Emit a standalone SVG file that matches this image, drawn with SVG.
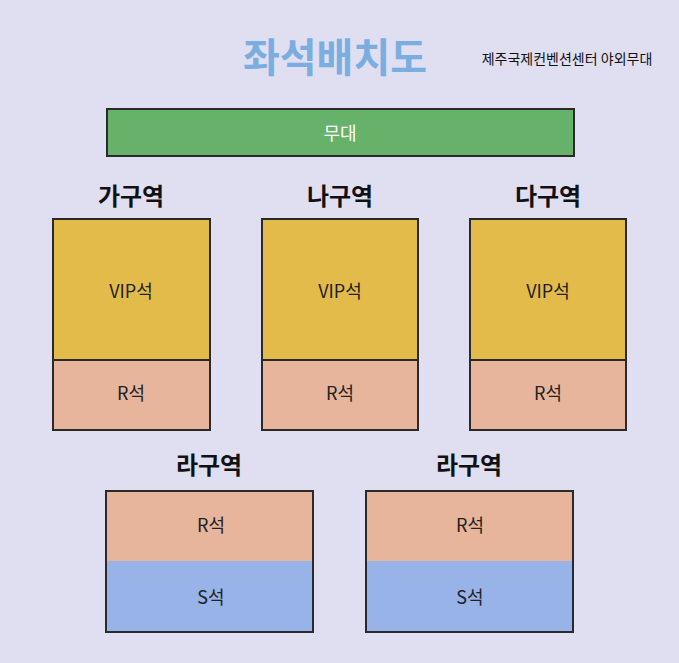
<svg xmlns="http://www.w3.org/2000/svg" width="679" height="663" viewBox="0 0 679 663">
<style>
text{font-family:"Noto Sans CJK KR","Noto Sans",sans-serif;text-anchor:middle}
.b{stroke:#2a2a2a;stroke-width:2}
.vip{fill:#e3bb4b}.r{fill:#e6b59b}.s{fill:#97b3e8}
.lbl{font-size:18px;fill:#222}
.h{font-size:24px;font-weight:bold;fill:#111}
</style>
<rect width="679" height="663" fill="#e0def1"/>
<text x="335" y="72" style="font-size:40px;font-weight:bold;fill:#7aaee0">좌석배치도</text>
<text x="567" y="64" style="font-size:14px;fill:#111">제주국제컨벤션센터 야외무대</text>
<g id="stage"><rect class="b" x="107" y="109" width="467" height="47" fill="#66b26a"/><text x="340" y="140" style="font-size:18px;fill:#fff">무대</text></g>
<g id="ga"><text class="h" x="131" y="205">가구역</text><rect class="vip" x="53" y="219" width="157" height="141"/><rect class="r" x="53" y="360" width="157" height="70"/><rect class="b" x="53" y="219" width="157" height="211" fill="none"/><line class="b" x1="53" y1="360" x2="210" y2="360"/><text class="lbl" x="131" y="298">VIP석</text><text class="lbl" x="131" y="400">R석</text></g>
<g id="na"><text class="h" x="340" y="205">나구역</text><rect class="vip" x="262" y="219" width="156" height="141"/><rect class="r" x="262" y="360" width="156" height="70"/><rect class="b" x="262" y="219" width="156" height="211" fill="none"/><line class="b" x1="262" y1="360" x2="418" y2="360"/><text class="lbl" x="340" y="298">VIP석</text><text class="lbl" x="340" y="400">R석</text></g>
<g id="da"><text class="h" x="548" y="205">다구역</text><rect class="vip" x="470" y="219" width="156" height="141"/><rect class="r" x="470" y="360" width="156" height="70"/><rect class="b" x="470" y="219" width="156" height="211" fill="none"/><line class="b" x1="470" y1="360" x2="626" y2="360"/><text class="lbl" x="548" y="298">VIP석</text><text class="lbl" x="548" y="400">R석</text></g>
<g id="ra1"><text class="h" x="209" y="474">라구역</text><rect class="r" x="106" y="491" width="207" height="70"/><rect class="s" x="106" y="561" width="207" height="71"/><rect class="b" x="106" y="491" width="207" height="141" fill="none"/><text class="lbl" x="211" y="532">R석</text><text class="lbl" x="211" y="604">S석</text></g>
<g id="ra2"><text class="h" x="469" y="474">라구역</text><rect class="r" x="366" y="491" width="207" height="70"/><rect class="s" x="366" y="561" width="207" height="71"/><rect class="b" x="366" y="491" width="207" height="141" fill="none"/><text class="lbl" x="470" y="532">R석</text><text class="lbl" x="470" y="604">S석</text></g>
<g id="connectors"/>
</svg>
